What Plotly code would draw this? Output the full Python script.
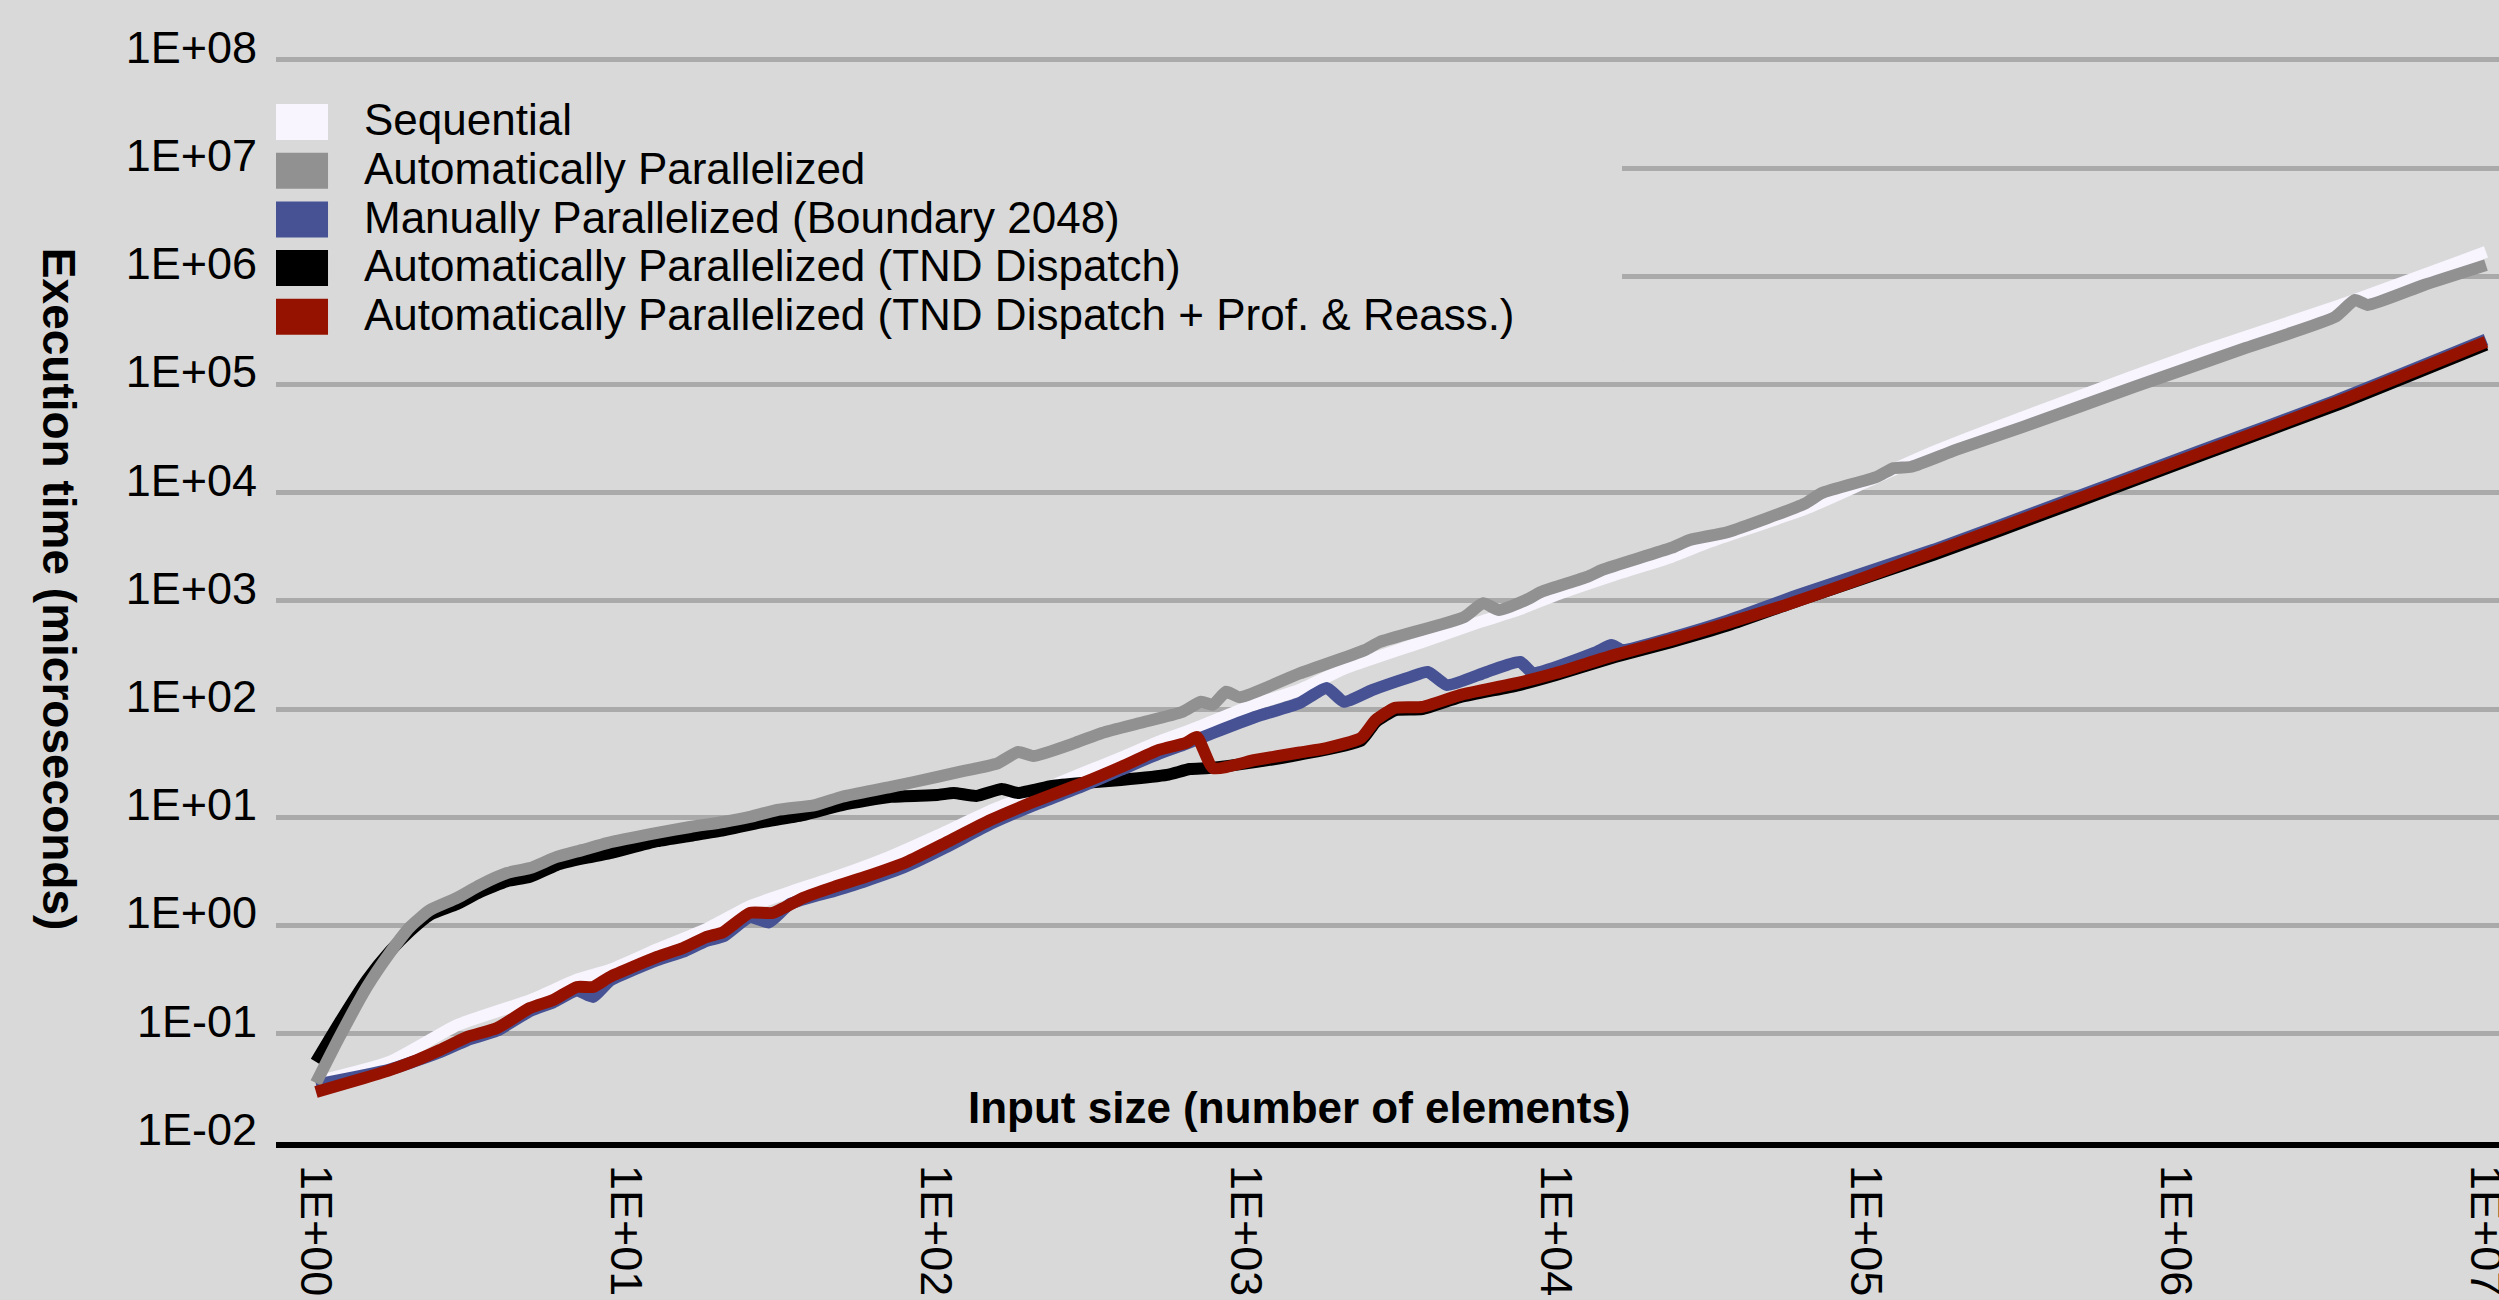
import plotly.graph_objects as go

# Execution time (microseconds) vs input size
seq_n = [1, 1.73, 2.85, 4.9, 6.95, 8.87, 12.6, 18.2, 25.1, 33.8, 49.8, 71.6, 101, 150, 206,
         298, 395, 524, 695, 1030, 1490, 2100, 3700, 5690, 7530, 10000, 15400, 23500, 31200,
         63500, 100000, 166000, 445000, 1.2e6, 3.26e6, 1e7]
seq_t = [0.0359, 0.055, 0.12, 0.204, 0.316, 0.389, 0.603, 0.933, 1.51, 2.04, 2.95, 4.37, 6.76,
         11.5, 16.6, 25.7, 35.5, 50.1, 67.6, 107, 151, 240, 418, 640, 826, 1140, 1740, 2550,
         3510, 7080, 12600, 24000, 70800, 200000, 521000, 1.68e6]

auto_n = [1, 1.19, 1.46, 1.73, 2.01, 2.33, 2.85, 3.38, 4.13, 4.9, 5.98, 7.26, 8.69, 12.6, 16.1,
          20.6, 25.1, 30.7, 40.7, 49.8, 71.6, 101, 119, 158, 184, 206, 281, 343, 455, 622, 716,
          782, 863, 955, 1490, 2420, 2700, 5050, 5820, 6550, 8000, 8950, 12600, 14100, 23500,
          27000, 35900, 63500, 72100, 108000, 123000, 140000, 195000, 321000, 733000, 1.68e6,
          3.26e6, 3.78e6, 4.16e6, 6.31e6, 1e7]
auto_t = [0.0351, 0.0933, 0.271, 0.558, 0.97, 1.39, 1.8, 2.37, 3.06, 3.4, 4.31, 5.01, 5.79, 7.18,
          8.15, 9.06, 10.1, 11.7, 13.0, 15.5, 19.1, 23.7, 26.3, 31.6, 40.3, 36.9, 48.8, 60.3,
          74.5, 94.2, 117, 110, 145, 129, 214, 352, 418, 711, 955, 826, 1020, 1210, 1670, 1940,
          3090, 3660, 4350, 7940, 9950, 14000, 16900, 17400, 24900, 40600, 95100, 218000,
          422000, 605000, 545000, 832000, 1.27e6]

manual_n = [1, 1.73, 2.51, 3.07, 3.84, 4.9, 5.82, 6.95, 7.83, 8.87, 12.6, 15.3, 18.2, 20.6, 25.1,
            28.9, 33.8, 46.9, 59, 80.5, 107, 150, 206, 298, 395, 524, 640, 783, 1070, 1490, 1820,
            2070, 2550, 3400, 3860, 4450, 5980, 7660, 8430, 13300, 15100, 16400, 23500, 35900,
            61200, 166000, 445000, 1.2e6, 3.26e6, 1e7]
manual_t = [0.0339, 0.0468, 0.0676, 0.0871, 0.107, 0.162, 0.195, 0.251, 0.219, 0.309, 0.479, 0.575,
            0.724, 0.794, 1.2, 1.07, 1.58, 2.09, 2.57, 3.55, 5.25, 8.71, 12.9, 19.5, 27.5, 38.9,
            47.9, 60.3, 84.7, 114, 157, 117, 150, 199, 221, 167, 221, 273, 216, 331, 392, 352,
            457, 661, 1150, 2990, 8510, 24500, 70800, 260000]

tnd_n = [1, 1.19, 1.46, 1.73, 2.01, 2.33, 2.85, 3.38, 4.13, 4.9, 5.98, 7.26, 8.87, 12.6, 16.1,
         20.6, 26.5, 37.2, 49.8, 71.6, 101, 114, 135, 163, 184, 237, 298, 395, 556, 659, 759,
         1070, 1490, 2350, 2620, 3030, 3700, 4900, 7530, 10000, 15400, 23500, 35900, 61200,
         166000, 445000, 1.2e6, 3.26e6, 1e7]
tnd_t = [0.055, 0.126, 0.314, 0.575, 0.891, 1.26, 1.58, 2.04, 2.57, 2.82, 3.63, 4.17, 4.68, 6.03,
         6.76, 7.59, 8.87, 10.5, 13.0, 15.5, 16.1, 16.8, 15.8, 18.3, 16.8, 19.5, 20.8, 22.2,
         24.7, 28.0, 28.6, 32.4, 38.0, 51.3, 75.9, 97.7, 100, 129, 166, 207, 302, 417, 596, 1020,
         2690, 7590, 22100, 63800, 234000]

prof_n = [1, 1.36, 1.73, 2.12, 2.51, 3.07, 3.84, 4.9, 5.82, 6.95, 7.83, 8.87, 12.6, 15.3, 18.2,
          20.6, 25.1, 29.8, 37.2, 46.9, 59, 80.5, 107, 150, 206, 298, 395, 524, 640, 695, 783,
          1070, 1490, 1820, 2350, 2620, 3030, 3700, 4900, 7530, 10000, 15400, 23500, 35900,
          55200, 88700, 166000, 445000, 1.2e6, 3.26e6, 1e7]
prof_t = [0.029, 0.0374, 0.0462, 0.0573, 0.0708, 0.0933, 0.113, 0.173, 0.205, 0.271, 0.271, 0.335,
          0.513, 0.621, 0.785, 0.871, 1.31, 1.31, 1.8, 2.28, 2.81, 3.87, 5.79, 9.46, 13.9, 20.8,
          29.2, 42, 48.8, 55.3, 28.6, 33.9, 39.8, 43.7, 54.2, 79.4, 103, 105, 135, 175, 216, 316,
          437, 627, 918, 1470, 2840, 8050, 23300, 67600, 248000]

x_ticks = [1, 10, 100, 1e3, 1e4, 1e5, 1e6, 1e7]
x_labels = ["1E+00", "1E+01", "1E+02", "1E+03", "1E+04", "1E+05", "1E+06", "1E+07"]
y_ticks = [1e-2, 1e-1, 1, 10, 100, 1e3, 1e4, 1e5, 1e6, 1e7, 1e8]
y_labels = ["1E-02", "1E-01", "1E+00", "1E+01", "1E+02", "1E+03",
            "1E+04", "1E+05", "1E+06", "1E+07", "1E+08"]

series = [
    ("Sequential", seq_n, seq_t, "#f8f5ff"),
    ("Automatically Parallelized", auto_n, auto_t, "#919191"),
    ("Manually Parallelized (Boundary 2048)", manual_n, manual_t, "#465294"),
    ("Automatically Parallelized (TND Dispatch)", tnd_n, tnd_t, "#000000"),
    ("Automatically Parallelized (TND Dispatch + Prof. & Reass.)", prof_n, prof_t, "#961200"),
]
draw_order = [0, 3, 2, 1, 4]

FONT = "Liberation Sans, Arial, Helvetica, sans-serif"
BG = "#d9d9d9"

fig = go.Figure()

for i in draw_order:
    name, n, t, color = series[i]
    fig.add_trace(go.Scatter(
        x=n, y=t,
        mode="lines",
        line=dict(color=color, width=12, shape="spline", smoothing=0.5),
        name=name,
        showlegend=False,
    ))

# Legend drawn by hand: a plain box hides the gridlines, then swatch + label rows
shapes = [dict(
    type="rect", xref="paper", yref="paper",
    x0=-0.002, x1=0.6055, y0=0.704, y1=0.962,
    fillcolor=BG, line=dict(width=0), layer="above",
)]
annotations = []
row_top = 0.9239
row_step = 0.0441
for k, (name, _, _, color) in enumerate(series):
    yc = row_top - k * row_step
    shapes.append(dict(
        type="rect", xref="paper", yref="paper",
        x0=0, x1=0.0234, y0=yc - 0.0163, y1=yc + 0.0163,
        fillcolor=color, line=dict(width=0), layer="above",
    ))
    annotations.append(dict(
        text=name, xref="paper", yref="paper",
        x=0.0385, y=yc + 0.002, xanchor="left", yanchor="middle",
        showarrow=False, font=dict(family=FONT, size=44, color="#000000"),
    ))

# Axis titles
annotations.append(dict(
    text="<b>Input size (number of elements)</b>", xref="paper", yref="paper",
    x=0.4606, y=0.0308, xanchor="center", yanchor="middle",
    showarrow=False, font=dict(family=FONT, size=44, color="#000000"),
))
annotations.append(dict(
    text="<b>Execution time (microseconds)</b>", xref="paper", yref="paper",
    x=-0.0976, y=0.501, xanchor="center", yanchor="middle", textangle=90,
    showarrow=False, font=dict(family=FONT, size=46, color="#000000"),
))

fig.update_layout(
    width=2499,
    height=1300,
    template="none",
    paper_bgcolor=BG,
    plot_bgcolor=BG,
    margin=dict(l=276, r=0, t=38, b=158, autoexpand=False),
    showlegend=False,
    shapes=shapes,
    annotations=annotations,
    font=dict(family=FONT, size=44, color="#000000"),
    xaxis=dict(
        type="log",
        range=[-0.129, 7.042],
        tickvals=x_ticks,
        ticktext=x_labels,
        tickangle=90,
        ticks="",
        showgrid=False,
        zeroline=False,
        showline=True,
        linecolor="#000000",
        linewidth=6,
        automargin=False,
        ticklabeloverflow="allow",
        ticklabelstandoff=8,
        tickfont=dict(family=FONT, size=45, color="#000000"),
    ),
    yaxis=dict(
        type="log",
        range=[-2, 8.203],
        tickvals=y_ticks,
        ticktext=y_labels,
        ticks="",
        showgrid=True,
        gridcolor="#aaaaaa",
        gridwidth=5,
        zeroline=False,
        showline=False,
        automargin=False,
        ticklabelshift=-13,
        ticklabelstandoff=18,
        tickfont=dict(family=FONT, size=45, color="#000000"),
    ),
)

fig.write_html(
    "out.html",
    config={"displayModeBar": False},
    post_script="document.body.style.margin='0';document.body.style.overflow='hidden';",
)
